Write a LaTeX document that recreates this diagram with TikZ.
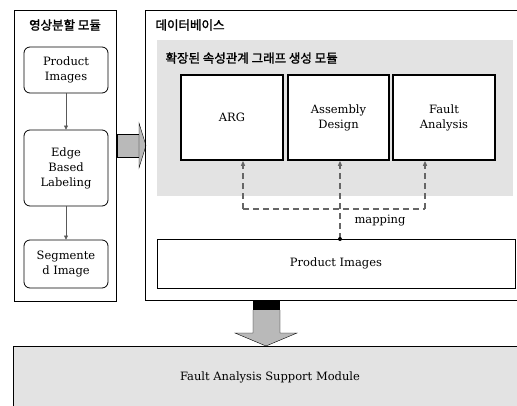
\documentclass[tikz,border=0pt]{standalone}
\usepackage{fontspec}
\setmainfont{DejaVu Serif}
\newfontfamily\kr[AutoFakeBold=1.6]{Noto Sans CJK KR}
\usetikzlibrary{arrows.meta}

\newcommand{\boxfont}{\fontsize{11.5}{15}\selectfont}
\newcommand{\krfont}{\kr\bfseries\fontsize{12.5}{14}\selectfont}

\begin{document}
\begin{tikzpicture}[x=1pt,y=-1pt,
  stagebox/.style={draw, thick, rounded corners=6pt, align=center, font=\boxfont},
  dbbox/.style={draw, line width=1.6pt, align=center, font=\boxfont},
  mapline/.style={gray!80!black, line width=1.6pt, dash pattern=on 6pt off 4pt}]
\useasboundingbox (0,0) rectangle (517,405);

% segmentation module
\draw[thick] (14,10) rectangle (116,301);
\node[font=\krfont] (segtitle) at (65,25) {영상분할 모듈};
\node[stagebox, minimum width=84, minimum height=46] (pimg) at (66,70) {Product\\Images};
\node[stagebox, minimum width=84, minimum height=76] (ebl) at (66,168) {Edge\\Based\\Labeling};
\node[stagebox, minimum width=84, minimum height=48] (seg) at (66,264) {Segmente\\d Image};
\draw[-{Triangle[length=4pt,width=4pt]}, gray!70!black] (pimg) -- (ebl);
\draw[-{Triangle[length=4pt,width=4pt]}, gray!70!black] (ebl) -- (seg);

% arrow to database
\draw[fill=gray!55] (117,134) rectangle (139,157);
\draw[fill=gray!55] (139,123) -- (146,145.5) -- (139,168) -- cycle;

% database
\draw[thick] (145,10) rectangle (540,300);
\node[font=\krfont, anchor=west] (dbtitle) at (152,25) {데이터베이스};
\fill[gray!22] (157,40) rectangle (513,196);
\node[font=\krfont, anchor=west] (argtitle) at (162,58) {확장된 속성관계 그래프 생성 모듈};
\node[dbbox, fill=white, minimum width=102, minimum height=85] (arg) at (232,117.5) {ARG};
\node[dbbox, fill=white, minimum width=101, minimum height=85] (asm) at (338.5,117.5) {Assembly\\Design};
\node[dbbox, fill=white, minimum width=102, minimum height=85] (fault) at (444,117.5) {Fault\\Analysis};
\node[draw, thick, fill=white, minimum width=358, minimum height=49, font=\boxfont] (pdb) at (336,263.5) {Product Images};

% mapping
\coordinate (mapL) at (243,209);
\coordinate (mapR) at (425,209);
\draw[mapline] (mapL) -- (mapR);
\draw[mapline, -{Triangle[length=5pt,width=4pt]}] (mapL) -- (mapL |- arg.south);
\draw[mapline, -{Triangle[length=5pt,width=4pt]}] (mapR) -- (mapR |- fault.south);
\draw[mapline, -{Triangle[length=5pt,width=4pt]}] (pdb.north -| 340,0) -- (asm.south -| 340,0);
\fill (340,239) circle (2pt);
\node[font=\boxfont] (maplabel) at (380,221) {mapping};

% arrow to support module
\fill[black] (253,300) rectangle (280,310);
\draw[fill=gray!55] (253,310) -- (253,333) -- (235,333) -- (266,346) -- (297,333) -- (280,333) -- (280,310);

% support module
\draw[thick, fill=gray!22] (13,346) rectangle (540,420);
\node[font=\boxfont] (fasm) at (270,377) {Fault Analysis Support Module};
\end{tikzpicture}
\end{document}
